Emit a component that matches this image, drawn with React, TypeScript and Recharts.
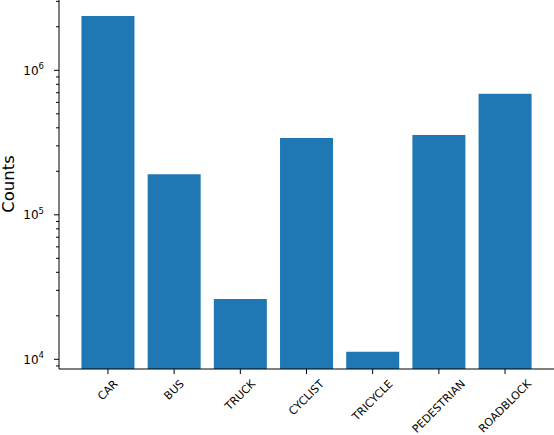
import React from 'react';
import { BarChart, Bar, XAxis, YAxis } from 'recharts';

const categories = ['CAR', 'BUS', 'TRUCK', 'CYCLIST', 'TRICYCLE', 'PEDESTRIAN', 'ROADBLOCK'];
const counts = [2376000, 191000, 26100, 340000, 11290, 357000, 689000];
const majorTicks = [1e4, 1e5, 1e6];
const minorTicks = [9e3, 2e4, 3e4, 4e4, 5e4, 6e4, 7e4, 8e4, 9e4, 2e5, 3e5, 4e5, 5e5, 6e5, 7e5, 8e5, 9e5, 2e6, 3e6];
const yDomain = [8570, 3066000];

const data = categories.map((c, i) => ({ name: c, value: counts[i] }));
const allTicks = [...minorTicks, ...majorTicks].sort((a, b) => a - b);

const FONT = 'DejaVu Sans, sans-serif';

let ctx: CanvasRenderingContext2D | null = null;
function measure(text: string, size: number): number {
  if (!ctx) {
    const c = document.createElement('canvas');
    ctx = c.getContext('2d');
  }
  if (!ctx) return text.length * size * 0.65;
  ctx.font = `${size}px "DejaVu Sans"`;
  return ctx.measureText(text).width;
}

const YTick = (props: any) => {
  const { x, y, payload } = props;
  const v = payload.value as number;
  const exp = Math.round(Math.log10(v));
  const isMajor = Math.abs(v - Math.pow(10, exp)) < 1e-6 * v;
  const len = isMajor ? 5 : 3;
  return (
    <g>
      <line x1={x - len} x2={x} y1={y} y2={y} stroke="#000" strokeWidth={1} />
      {isMajor && (
        <text x={x - 15} y={y + 4.5} textAnchor="end" fontFamily={FONT} fontSize={12} fill="#000">
          <tspan>10</tspan>
          <tspan dy={-5.5} fontSize={8.5}>{exp}</tspan>
        </text>
      )}
    </g>
  );
};

const XTick = (props: any) => {
  const { x, payload } = props;
  const label = String(payload.value);
  const fs = 11;
  const w = measure(label, fs);
  const h = fs * 1.16;
  const top = 377.5;
  const cy = top + (w + h) / (2 * Math.SQRT2);
  return (
    <text
      x={x}
      y={cy}
      textAnchor="middle"
      dominantBaseline="central"
      fontFamily={FONT}
      fontSize={fs}
      fill="#000"
      transform={`rotate(-45, ${x}, ${cy})`}
    >
      {label}
    </text>
  );
};

const CountsLabel = () => (
  <text
    x={14}
    y={184}
    transform="rotate(-90, 14, 184)"
    textAnchor="middle"
    fontFamily={FONT}
    fontSize={16.5}
    fill="#000"
  >
    Counts
  </text>
);

export default function App() {
  return (
    <div style={{ position: 'absolute', left: 0, top: 0, width: 554, height: 435, background: '#fff' }}>
      <BarChart
        width={554}
        height={435}
        data={data}
        margin={{ top: 0, right: 0, bottom: 0, left: 0 }}
        barCategoryGap="10%"
      >
        <XAxis
          dataKey="name"
          height={66}
          padding={{ left: 15.85, right: 15.85 }}
          interval={0}
          tickSize={5}
          tickMargin={0}
          stroke="#000"
          axisLine={{ stroke: '#000', strokeWidth: 1 }}
          tickLine={{ stroke: '#000', strokeWidth: 1 }}
          tick={<XTick />}
        />
        <YAxis
          scale="log"
          type="number"
          domain={yDomain}
          allowDataOverflow
          ticks={allTicks}
          interval={0}
          width={59}
          tickSize={0}
          tickMargin={0}
          tickLine={false}
          axisLine={{ stroke: '#000', strokeWidth: 1 }}
          tick={<YTick />}
          label={{ content: () => <CountsLabel /> }}
        />
        <Bar dataKey="value" fill="#1f77b4" isAnimationActive={false} />
      </BarChart>
    </div>
  );
}
